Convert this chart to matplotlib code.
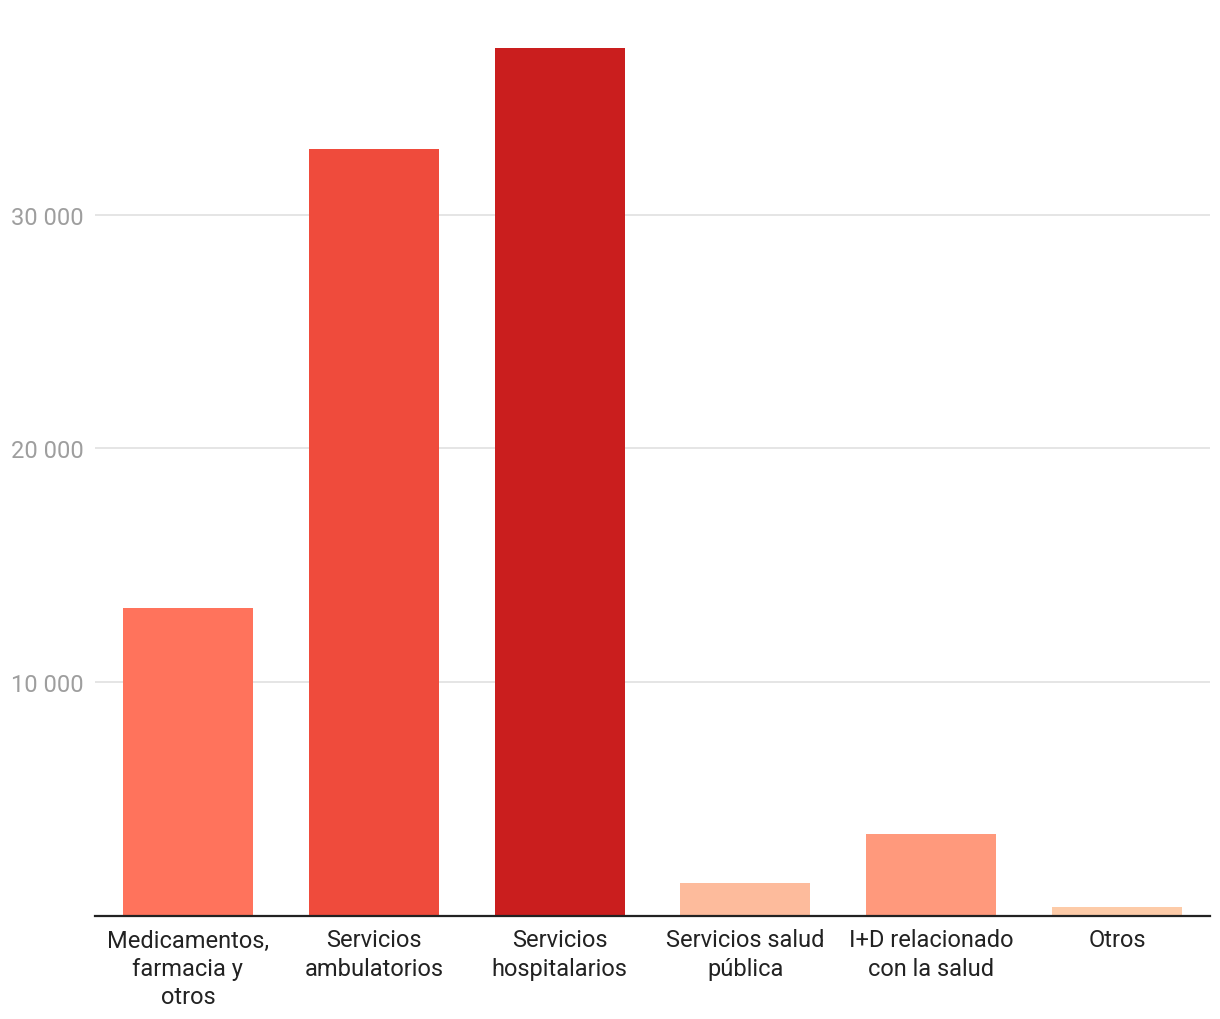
import matplotlib.pyplot as plt
from matplotlib.ticker import FuncFormatter

categories = ["Medicamentos,\nfarmacia y\notros", "Servicios\nambulatorios",
              "Servicios\nhospitalarios", "Servicios salud\npública",
              "I+D relacionado\ncon la salud", "Otros"]
values = [13190, 32800, 37130, 1410, 3510, 390]
colors = ["#FF735C", "#EF4B3C", "#CA1E1E", "#FDBB9C", "#FF997C", "#FDCBA8"]
yticks = [10000, 20000, 30000]

plt.rcParams['font.family'] = ['Roboto', 'DejaVu Sans']

fig = plt.figure(figsize=(12.2, 10.2), dpi=100)
ax = fig.add_axes([95 / 1220, 1 - 917 / 1020, 1115 / 1220, 886 / 1020])

x = range(len(categories))
ax.bar(x, values, width=0.7, color=colors, zorder=2)

ax.set_xlim(-0.5, len(categories) - 0.5)
ax.set_ylim(0, 37900)
ax.set_yticks(yticks)
ax.yaxis.set_major_formatter(FuncFormatter(lambda v, p: f"{int(v):,}".replace(",", " ")))
ax.grid(axis='y', color='#E3E3E3', linewidth=1.3, zorder=0)

ax.set_xticks(list(x))
ax.set_xticklabels(categories, fontsize=17, color='#222222', linespacing=1.3)
ax.tick_params(axis='x', length=0, pad=9)
ax.tick_params(axis='y', length=0, pad=8, labelsize=17, labelcolor='#9E9E9E')

for s in ['top', 'right', 'left']:
    ax.spines[s].set_visible(False)
ax.spines['bottom'].set_color('#222222')
ax.spines['bottom'].set_linewidth(1.6)
ax.spines['bottom'].set_zorder(3)

fig.savefig('out.png', dpi=100)
